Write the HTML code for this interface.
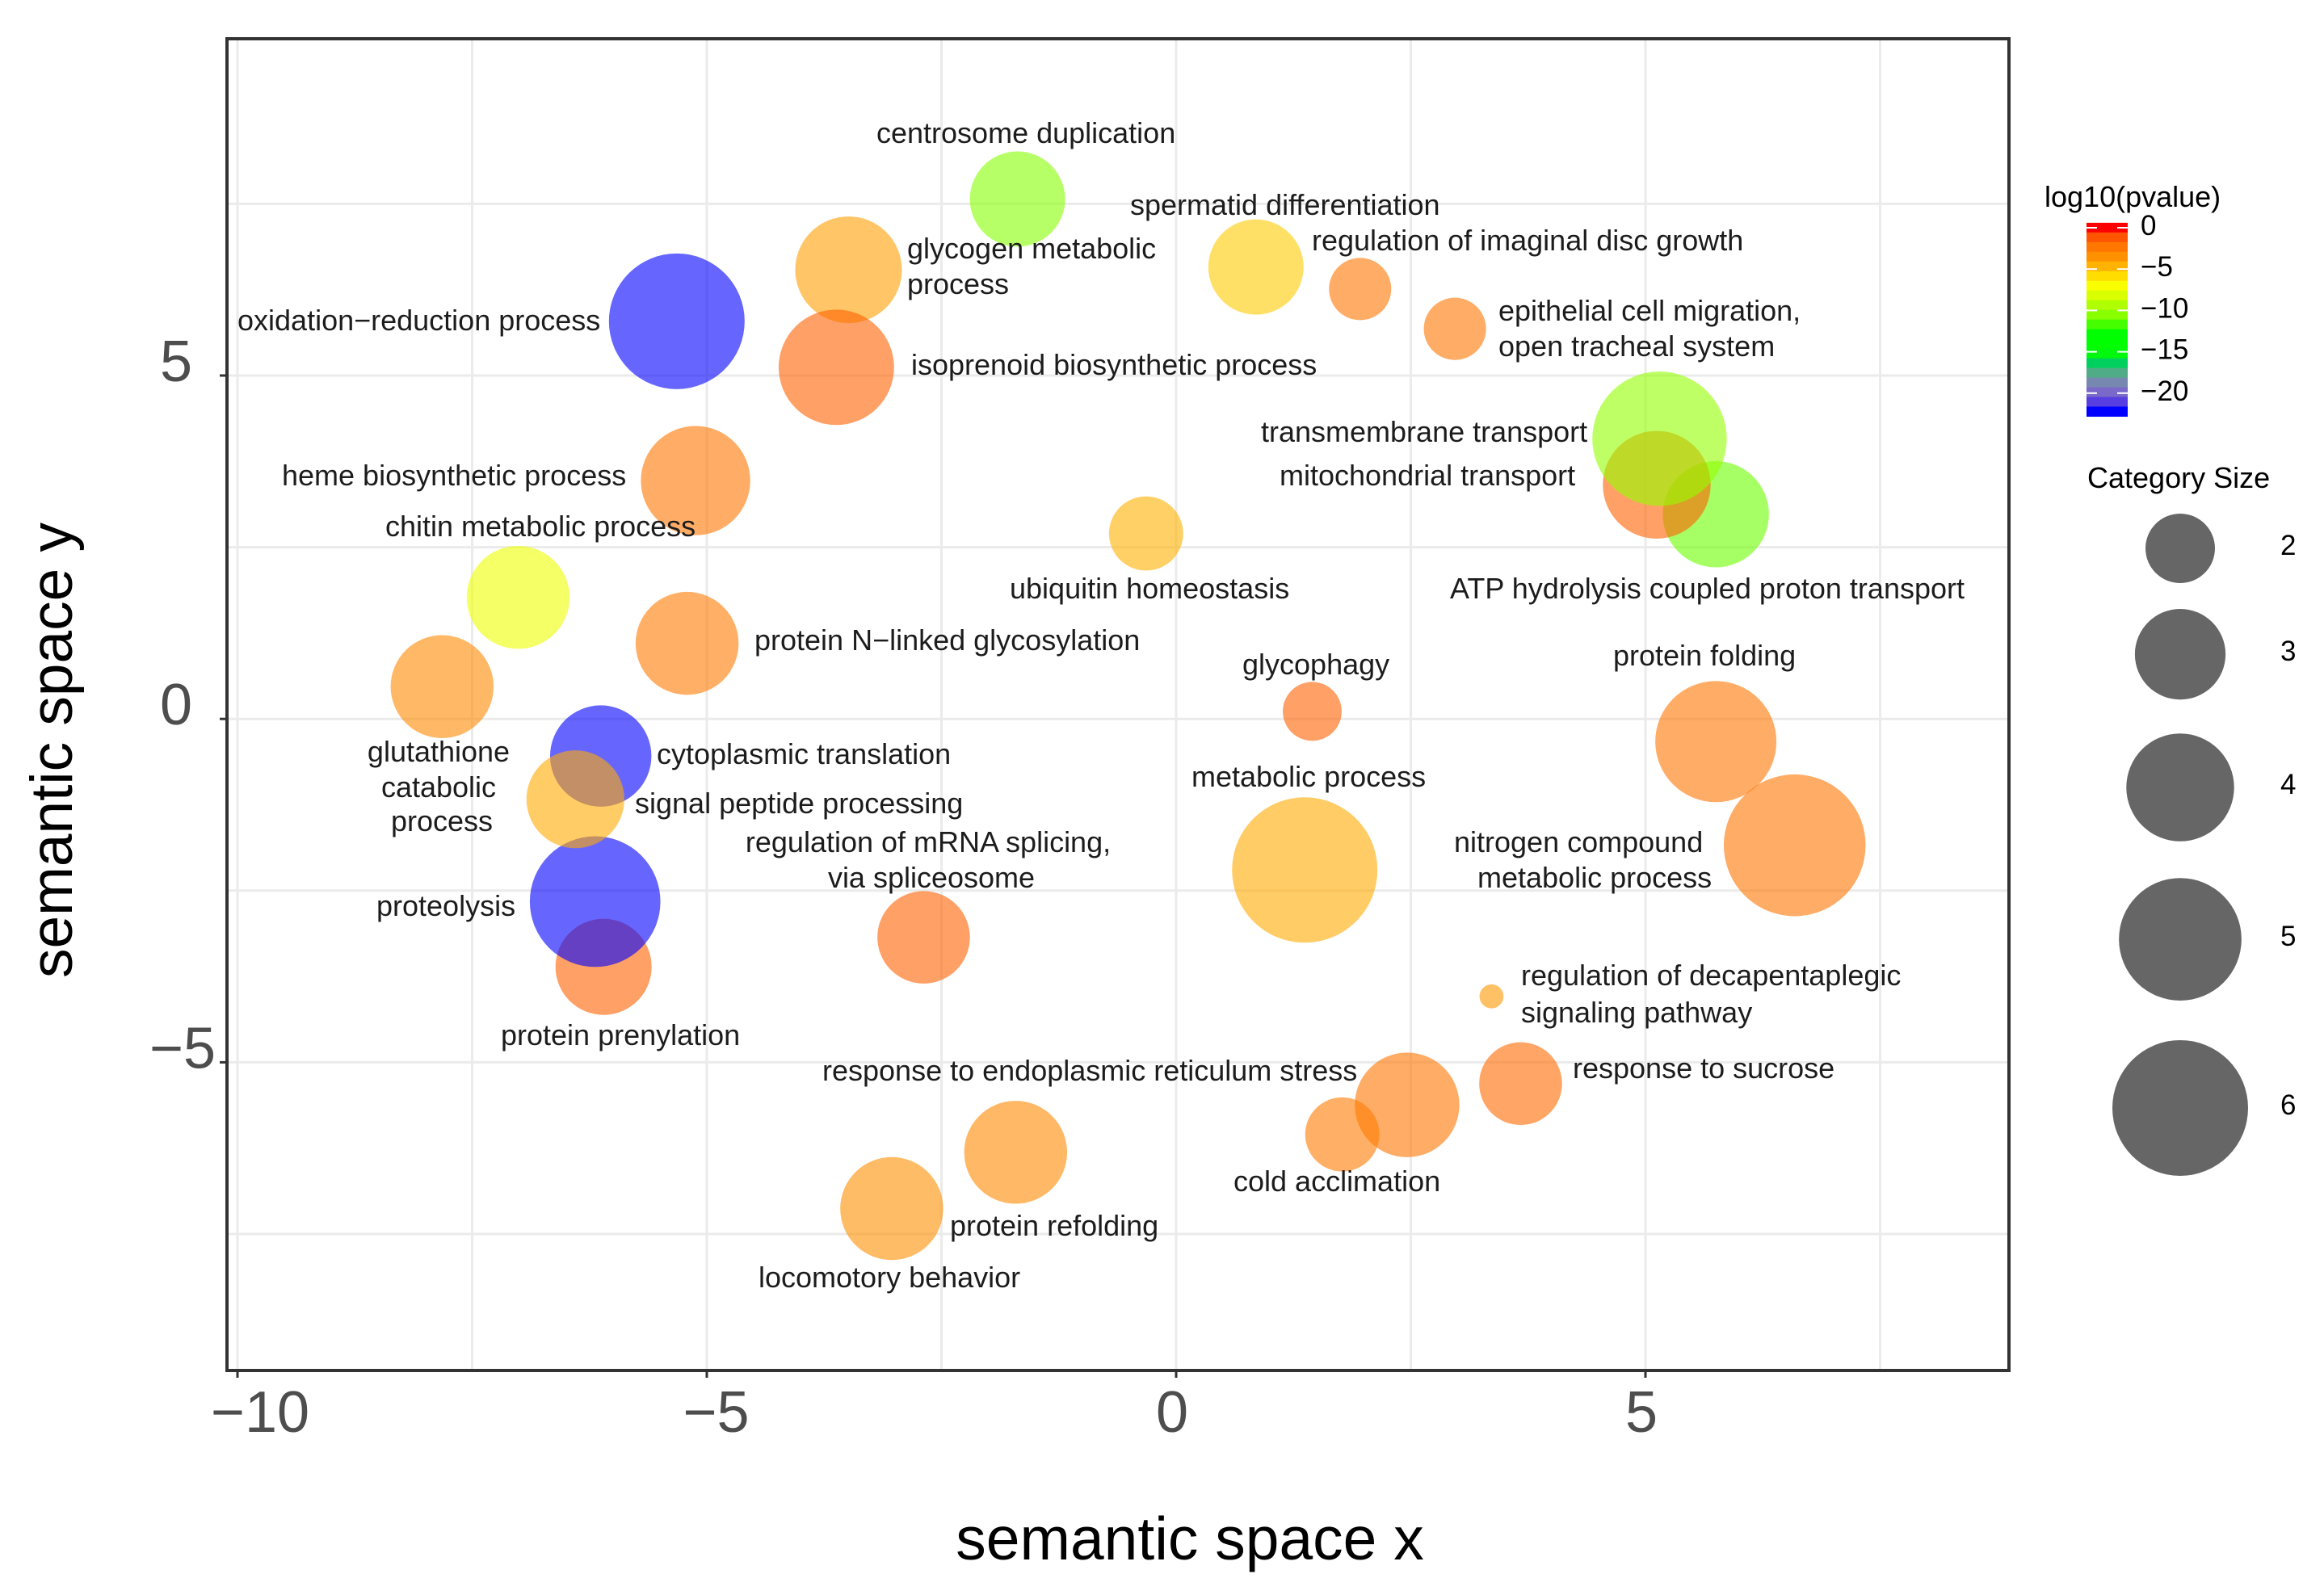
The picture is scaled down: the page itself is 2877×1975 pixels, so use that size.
<!DOCTYPE html>
<html lang="en">
<head>
<meta charset="utf-8">
<title>Semantic space bubble chart</title>
<style>
html,body{margin:0;padding:0;background:#fff;width:2877px;height:1975px;overflow:hidden}
svg{display:block;font-family:"Liberation Sans",Arial,sans-serif}
.lab{font-size:36px;fill:#1c1c1c}
.tick{font-size:72px;fill:#4d4d4d}
.title{font-size:75px;fill:#000}
.legt{font-size:36px;fill:#000}
.legl{font-size:35px;fill:#000}
</style>
</head>
<body>
<svg id="chart" xmlns="http://www.w3.org/2000/svg" width="2877" height="1975" viewBox="0 0 2877 1975">
  <rect x="0" y="0" width="2877" height="1975" fill="#fff"/>
  <g id="grid"></g>
  <g id="bubbles"></g>
  <rect x="281" y="48" width="2206" height="1649" fill="none" stroke="#333" stroke-width="4"/>
  <g id="axes"></g>

  <g id="labels">
    <text class="lab" x="1085" y="177">centrosome duplication</text>
    <text class="lab" x="1399" y="266">spermatid differentiation</text>
    <text class="lab" x="1123" y="320">glycogen metabolic<tspan x="1123" y="364">process</tspan></text>
    <text class="lab" x="1624" y="310">regulation of imaginal disc growth</text>
    <text class="lab" x="294" y="409">oxidation−reduction process</text>
    <text class="lab" x="1128" y="464">isoprenoid biosynthetic process</text>
    <text class="lab" x="1855" y="397">epithelial cell migration,<tspan x="1855" y="441">open tracheal system</tspan></text>
    <text class="lab" x="1561" y="547">transmembrane transport</text>
    <text class="lab" x="1584" y="601">mitochondrial transport</text>
    <text class="lab" x="349" y="601">heme biosynthetic process</text>
    <text class="lab" x="477" y="664">chitin metabolic process</text>
    <text class="lab" x="1250" y="741">ubiquitin homeostasis</text>
    <text class="lab" x="1795" y="741">ATP hydrolysis coupled proton transport</text>
    <text class="lab" x="934" y="805">protein N−linked glycosylation</text>
    <text class="lab" x="1997" y="824">protein folding</text>
    <text class="lab" x="1538" y="835">glycophagy</text>
    <text class="lab" text-anchor="middle" x="543" y="943">glutathione<tspan x="543" y="987">catabolic</tspan><tspan x="547" y="1029">process</tspan></text>
    <text class="lab" x="813" y="946">cytoplasmic translation</text>
    <text class="lab" x="1475" y="974">metabolic process</text>
    <text class="lab" x="786" y="1007">signal peptide processing</text>
    <text class="lab" text-anchor="middle" x="1149" y="1055">regulation of mRNA splicing,<tspan x="1153" y="1099">via spliceosome</tspan></text>
    <text class="lab" x="1800" y="1055">nitrogen compound<tspan x="1829" y="1099">metabolic process</tspan></text>
    <text class="lab" x="466" y="1134">proteolysis</text>
    <text class="lab" x="1883" y="1220">regulation of decapentaplegic<tspan x="1883" y="1266">signaling pathway</tspan></text>
    <text class="lab" x="620" y="1294">protein prenylation</text>
    <text class="lab" x="1018" y="1338">response to endoplasmic reticulum stress</text>
    <text class="lab" x="1947" y="1335">response to sucrose</text>
    <text class="lab" x="1527" y="1475">cold acclimation</text>
    <text class="lab" x="1176" y="1530">protein refolding</text>
    <text class="lab" x="939" y="1594">locomotory behavior</text>
  </g>

  <text class="title" text-anchor="middle" x="1473" y="1931">semantic space x</text>
  <text class="title" text-anchor="middle" transform="translate(89 929) rotate(-90)" style="font-size:73px">semantic space y</text>

  <text class="legt" x="2531" y="256">log10(pvalue)</text>
  <g id="colorLegend"></g>
  <text class="legt" x="2584" y="604">Category Size</text>
  <g id="sizeLegend"></g>
</svg>

<script>
// ---- data ----
const terms = [
  "centrosome duplication","glycogen metabolic process","oxidation-reduction process","isoprenoid biosynthetic process",
  "spermatid differentiation","regulation of imaginal disc growth","epithelial cell migration","ATP hydrolysis coupled proton transport",
  "mitochondrial transport","transmembrane transport","heme biosynthetic process","ubiquitin homeostasis",
  "chitin metabolic process","protein N-linked glycosylation","glutathione catabolic process","glycophagy",
  "protein folding","metabolic process","nitrogen compound metabolic process","protein prenylation",
  "proteolysis","cytoplasmic translation","signal peptide processing","regulation of mRNA splicing",
  "regulation of decapentaplegic signaling pathway","response to sucrose","response to ER stress","cold acclimation",
  "protein refolding","locomotory behavior"
];
const xValues = [-1.69,-3.49,-5.32,-3.62,0.85,1.96,2.97,5.75,5.12,5.15,-5.12,-0.32,-7.01,-5.21,-7.82,1.45,5.75,1.37,6.59,-6.10,-6.19,-6.13,-6.40,-2.69,3.36,3.67,2.46,1.77,-1.71,-3.03];
const yValues = [7.57,6.54,5.79,5.12,6.58,6.26,5.68,2.98,3.41,4.08,3.47,2.70,1.77,1.10,0.47,0.11,-0.33,-2.20,-1.84,-3.61,-2.66,-0.54,-1.17,-3.18,-4.04,-5.31,-5.62,-6.05,-6.31,-7.13];
const sizeValues = [3.25,3.93,6,4.5,3.25,1.72,1.72,3.9,4,5.9,4.1,2.2,3.7,3.7,3.7,1.6,4.9,6.8,6.5,3.3,5.6,3.6,3.4,3.1,0.75,2.6,3.8,2.2,3.7,3.7];
const logpValues = [-10.6,-4.05,-23,-1.53,-5.35,-2.3,-2.3,-11.15,-1.53,-10.3,-2.3,-4.6,-7.5,-2.55,-3.3,-1.53,-2.25,-4.45,-2.25,-1.53,-23,-23,-4.45,-1.53,-3.75,-1.78,-2.25,-2.55,-3.3,-3.5];

const xTickValues = [-10,-5,0,5];
const yTickValues = [5,0,-5];
const xGridValues = [-10,-7.5,-5,-2.5,0,2.5,5,7.5];
const yGridValues = [7.5,5,2.5,0,-2.5,-5,-7.5];
const colorTickValues = [0,-5,-10,-15,-20];
const legendSizes = [2,3,4,5,6];
const colorStopValues = [0.6,-0.3,-1,-2,-3.2,-4.3,-5.5,-6.7,-7.8,-9,-10.2,-11.3,-12.5,-15,-16.4,-17.6,-18.7,-19.9,-21,-22.2,-22.8];
const colorStopHexes = ["#ff0000","#ff0000","#ff5000","#ff7000","#ff8800","#ffa500","#ffd000","#ffff00","#e8ff00","#b8ff00","#99ff00","#66ff00","#00ff00","#00ff00","#00d060","#55aa88","#7788b0","#7a68c8","#5a40e0","#0000ff","#0000ff"];

// ---- scales ----
const NS = "http://www.w3.org/2000/svg";
function sx(v){ return 1456 + v * 116.2; }
function sy(v){ return 890.2 - v * 85.04; }
function radius(s){ return Math.sqrt(1302 * Math.max(s - 0.58, 0.01)); }
function legendY(v){ return 282 - v * 10.24; }
function hexToRgb(h){ return [1,3,5].map(function(i){ return parseInt(h.substr(i,2),16); }); }
function colorFor(v){
  const n = colorStopValues.length;
  if (v >= colorStopValues[0]) return colorStopHexes[0];
  for (let i = 1; i < n; i++) {
    if (v >= colorStopValues[i]) {
      const t = (colorStopValues[i-1] - v) / (colorStopValues[i-1] - colorStopValues[i]);
      const a = hexToRgb(colorStopHexes[i-1]), b = hexToRgb(colorStopHexes[i]);
      return "rgb(" + a.map(function(c,k){ return Math.round(c + (b[k]-c)*t); }).join(",") + ")";
    }
  }
  return colorStopHexes[n-1];
}
function make(tag, parent, attrs){
  const el = document.createElementNS(NS, tag);
  for (const k in attrs) el.setAttribute(k, attrs[k]);
  parent.appendChild(el);
  return el;
}
function slug(t){ return t.toLowerCase().replace(/[^a-z0-9]+/g,"-"); }
const minus = function(v){ return String(v).replace("-", "\u2212"); };

// ---- grid ----
const grid = document.getElementById("grid");
xGridValues.forEach(function(v){
  const el = make("line", grid, {x1:sx(v), x2:sx(v), y1:48, y2:1697, stroke:"#ebebeb", "stroke-width":3});
  
  
});
yGridValues.forEach(function(v){
  const el = make("line", grid, {x1:281, x2:2487, y1:sy(v), y2:sy(v), stroke:"#ebebeb", "stroke-width":3});
  
  
});

// ---- bubbles ----
const bubbles = document.getElementById("bubbles");
terms.forEach(function(t,i){
  const el = make("circle", bubbles, {cx:sx(xValues[i]), cy:sy(yValues[i]), r:radius(sizeValues[i]), fill:colorFor(logpValues[i]), "fill-opacity":0.6});
  
  
});

// ---- axes ----
const axes = document.getElementById("axes");
xTickValues.forEach(function(v){
  const tk = make("line", axes, {x1:sx(v), x2:sx(v), y1:1697, y2:1706, stroke:"#333", "stroke-width":3});
  
  
  const s = minus(v);
  const tl = make("text", axes, {x:sx(v) + (s.length-1)*16.5 - 5, y:1773, "text-anchor":"middle", "class":"tick"});
  
  
  tl.textContent = s;
});
yTickValues.forEach(function(v){
  const tk = make("line", axes, {x1:272, x2:281, y1:sy(v), y2:sy(v), stroke:"#333", "stroke-width":3});
  
  
  const s = minus(v);
  const tl = make("text", axes, {x:(s.length>1?226:218), y:sy(v)+7, "text-anchor":"middle", "class":"tick"});
  
  
  tl.textContent = s;
});

// ---- colour legend ----
const colorLegend = document.getElementById("colorLegend");
const BINS = 20, legTop = legendY(0.6), legBottom = legendY(-22.8);
for (let b = 0; b < BINS; b++) {
  const h = (legBottom - legTop) / BINS;
  const mid = 0.6 + (-23.4) * (b + 0.5) / BINS;
  const el = make("rect", colorLegend, {x:2583, y:legTop + b*h, width:51, height:h + 0.5, fill:colorFor(mid)});
  
  
}
colorTickValues.forEach(function(v){
  const y = legendY(v);
  const a = make("line", colorLegend, {x1:2583, x2:2596, y1:y, y2:y, stroke:"#fff", "stroke-width":2});
  
  
  const b = make("line", colorLegend, {x1:2621, x2:2634, y1:y, y2:y, stroke:"#fff", "stroke-width":2});
  
  
  const t = make("text", colorLegend, {x:2650, y:y+9, "class":"legl"});
  
  
  t.textContent = minus(v);
});

// ---- size legend ----
const sizeLegend = document.getElementById("sizeLegend");
let rowY = 679;
legendSizes.forEach(function(s,i){
  if (i > 0) rowY += radius(legendSizes[i-1]) + radius(s) + (i === 1 ? 32 : 42 + (i-2)*3.5);
  const c = make("circle", sizeLegend, {cx:2699, cy:rowY, r:radius(s), fill:"#000", "fill-opacity":0.6});
  
  
  const t = make("text", sizeLegend, {x:2823, y:rowY+8, "class":"legl"});
  
  
  t.textContent = String(s);
});
</script>
</body>
</html>
